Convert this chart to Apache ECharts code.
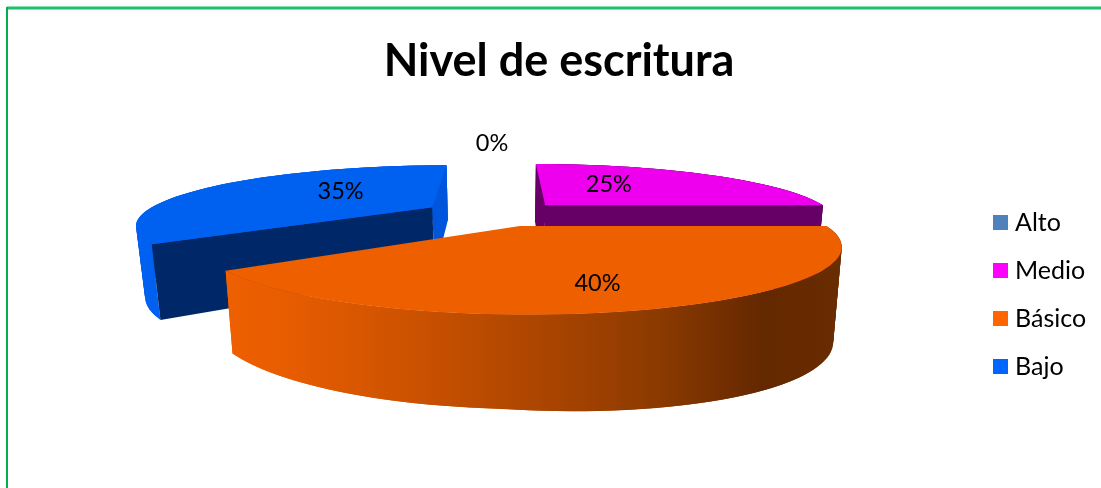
<!DOCTYPE html>
<html>
<head>
<meta charset="utf-8">
<style>
  html, body { margin: 0; padding: 0; background: #fff; }
  #chart { width: 1101px; height: 488px; }
</style>
<script src="https://cdn.jsdelivr.net/npm/echarts@6/dist/echarts.min.js"></script>
</head>
<body>
<div id="chart"></div>
<script>
const categories = ["Alto", "Medio", "Básico", "Bajo"];
const values = [0, 25, 40, 35];
const legendColors = ["#4F81BD", "#FF00FF", "#FF6600", "#0066FF"];

const topColors = ["#4F81BD", "#EE00EE", "#EE5F00", "#0060F0"];
const sideColors = ["#4F81BD", "#660066", null, "#0060F0"];
// walls are the flat cut faces of a slice: [at start angle, at end angle]
const wallColors = [null, ["#660066", "#660066"], null, ["#002868", "#0055DD"]];
const explode = [0.22, 0.23, 0.21, 0.27];
// where each percent label sits, measured from the slice apex
const labelAngle = [-1.4, 30.8, 165.3, 313];
const labelRadius = [1.72, 0.54, 0.74, 0.52];
// draw far slices first so the orange one overlaps them
const drawOrder = [0, 3, 1, 2];

const FONT = "Lato, Carlito, sans-serif";
const CX = 500, CY = 214, RX = 290, RY = 56.6, PERSP = 0.271, SHRINK = 0.975;

const chart = echarts.init(document.getElementById("chart"));

const total = values.reduce((a, b) => a + b, 0);
let running = 0;
const slices = values.map((v, i) => {
  const start = running / total * 360;
  running += v;
  const end = running / total * 360;
  const mid = (start + end) / 2 * Math.PI / 180;
  return { start, end, ox: Math.sin(mid) * explode[i], oy: Math.cos(mid) * explode[i] };
});

// flat disc units to screen, far side (y > 0) gets smaller
function project(x, y) {
  const p = 1 / (1 + PERSP * y);
  return { x: CX + RX * x * p, y: CY - RY * y * p, p };
}

function rimPoint(s, deg) {
  const a = deg * Math.PI / 180;
  return project(s.ox + Math.sin(a), s.oy + Math.cos(a));
}

// same point on the bottom face of the slice
function lower(pt) {
  const ux = (pt.x - CX) / (RX * pt.p);
  const depth = 55 + 55 * (pt.p - 0.766) + 18 * Math.max(0, ux);
  return [CX + (pt.x - CX) * SHRINK, pt.y + depth];
}

function arc(s, from, to) {
  const pts = [];
  const n = Math.max(2, Math.ceil(Math.abs(to - from) / 2));
  for (let k = 0; k <= n; k++) pts.push(rimPoint(s, from + (to - from) * k / n));
  return pts;
}

function poly(points, fill) {
  return { type: "polygon", shape: { points }, style: { fill } };
}

function renderSlice(i) {
  const s = slices[i];
  const children = [];
  if (values[i] > 0) {
    const rim = arc(s, s.start, s.end);
    const apex = project(s.ox, s.oy);
    const sideFill = sideColors[i] || {
      type: "linear", x: 225, y: 0, x2: 843, y2: 0, global: true,
      colorStops: [
        { offset: 0, color: "#EE6000" },
        { offset: 0.1, color: "#E85C00" },
        { offset: 0.3, color: "#CC5200" },
        { offset: 0.5, color: "#AD4600" },
        { offset: 0.7, color: "#8C3A00" },
        { offset: 0.87, color: "#642800" },
        { offset: 1, color: "#6A2C00" }
      ]
    };
    // outer wall in overlapping strips so there is no fold or seam
    for (let k = 0; k < rim.length - 1; k++) {
      const a = rim[k], b = rim[Math.min(k + 2, rim.length - 1)];
      children.push(poly([[a.x, a.y], [b.x, b.y], lower(b), lower(a)], sideFill));
    }
    if (wallColors[i]) {
      const a = rim[0], b = rim[rim.length - 1];
      children.push(poly([[apex.x, apex.y], [a.x, a.y], lower(a), lower(apex)], wallColors[i][0]));
      children.push(poly([[apex.x, apex.y], [b.x, b.y], lower(b), lower(apex)], wallColors[i][1]));
    }
    children.push(poly([[apex.x, apex.y]].concat(rim.map(p => [p.x, p.y])), topColors[i]));
  }
  return children;
}

function renderLabel(i) {
  const s = slices[i];
  const a = labelAngle[i] * Math.PI / 180;
  const p = project(s.ox + Math.sin(a) * labelRadius[i], s.oy + Math.cos(a) * labelRadius[i]);
  return {
    type: "text",
    z2: 100,
    style: {
      text: values[i] + "%", x: p.x, y: p.y + 1, fill: "#000",
      font: "23.5px " + FONT, align: "center", verticalAlign: "middle"
    }
  };
}

const series = drawOrder.map((i, order) => ({
  type: "custom",
  name: categories[i],
  coordinateSystem: "none",
  z: order + 2,
  silent: true,
  itemStyle: { color: legendColors[i] },
  data: [values[i]],
  renderItem: () => ({ type: "group", children: renderSlice(i) })
}));

series.push({
  type: "custom",
  name: "labels",
  coordinateSystem: "none",
  z: 20,
  silent: true,
  data: values,
  renderItem: params => renderLabel(params.dataIndex)
});

chart.setOption({
  animation: false,
  backgroundColor: "#fff",
  title: {
    text: "Nivel de escritura",
    left: 554,
    top: 34,
    textAlign: "center",
    textStyle: { fontFamily: FONT, fontWeight: "bold", fontSize: 45, color: "#000" }
  },
  legend: {
    orient: "vertical",
    left: 988,
    top: 205,
    icon: "rect",
    itemWidth: 15,
    itemHeight: 15,
    itemGap: 23,
    selectedMode: false,
    data: categories,
    textStyle: { fontFamily: FONT, fontSize: 25, color: "#000", padding: [0, 0, 0, 2] }
  },
  graphic: [
    { type: "line", shape: { x1: 7, y1: 8, x2: 1101, y2: 8 }, style: { stroke: "#1CC068", lineWidth: 3 } },
    { type: "line", shape: { x1: 7, y1: 7, x2: 7, y2: 488 }, style: { stroke: "#00B050", lineWidth: 2 } }
  ],
  series
});
</script>
</body>
</html>
